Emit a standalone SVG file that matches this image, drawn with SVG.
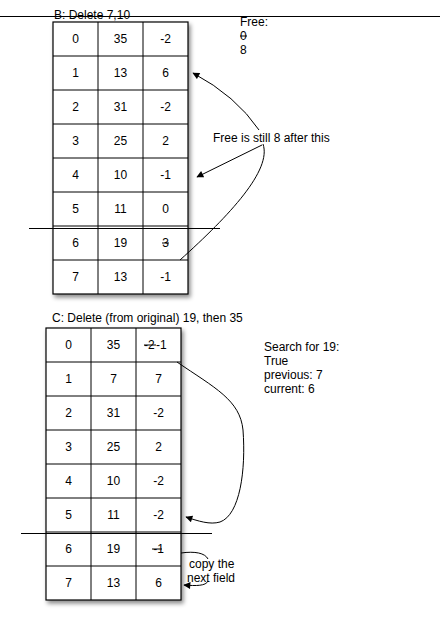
<svg xmlns="http://www.w3.org/2000/svg" width="440" height="617" viewBox="0 0 440 617">
<style>
text{font-family:"Liberation Sans",Arial,sans-serif;font-size:12px;fill:#000}
.c{text-anchor:middle}
.g{stroke:#000;stroke-width:1;fill:none}
.w{fill:#fff;stroke:#000;stroke-width:1.2;filter:url(#sh)}
.con{stroke:#000;stroke-width:1;fill:none}
</style>
<defs>
<filter id="sh" x="-20%" y="-10%" width="140%" height="120%">
<feDropShadow dx="2" dy="3" stdDeviation="2" flood-color="#000" flood-opacity="0.45"/>
</filter>
<marker id="ah" viewBox="0 0 10 10" refX="9" refY="5" markerWidth="9" markerHeight="7" markerUnits="userSpaceOnUse" orient="auto">
<path d="M0,0 L10,5 L0,10 z" fill="#000"/>
</marker>
</defs>
<rect width="440" height="617" fill="#fff"/>
<line x1="0" y1="16.5" x2="440" y2="16.5" stroke="#000" stroke-width="1"/>

<g id="tableB">
<rect class="w" x="53" y="22" width="135" height="272"/>
<path class="g" d="M98,22V294M143,22V294M53,56H188M53,90H188M53,124H188M53,158H188M53,192H188M53,226H188M53,260H188"/>
<text class="c" x="75.5" y="43">0</text><text class="c" x="120.5" y="43">35</text><text class="c" x="165.5" y="43">-2</text>
<text class="c" x="75.5" y="77">1</text><text class="c" x="120.5" y="77">13</text><text class="c" x="165.5" y="77">6</text>
<text class="c" x="75.5" y="111">2</text><text class="c" x="120.5" y="111">31</text><text class="c" x="165.5" y="111">-2</text>
<text class="c" x="75.5" y="145">3</text><text class="c" x="120.5" y="145">25</text><text class="c" x="165.5" y="145">2</text>
<text class="c" x="75.5" y="179">4</text><text class="c" x="120.5" y="179">10</text><text class="c" x="165.5" y="179">-1</text>
<text class="c" x="75.5" y="213">5</text><text class="c" x="120.5" y="213">11</text><text class="c" x="165.5" y="213">0</text>
<text class="c" x="75.5" y="247">6</text><text class="c" x="120.5" y="247">19</text><text class="c" x="165.5" y="247">3</text>
<line x1="162" y1="243" x2="169" y2="243" stroke="#000" stroke-width="1"/>
<text class="c" x="75.5" y="281">7</text><text class="c" x="120.5" y="281">13</text><text class="c" x="165.5" y="281">-1</text>
</g>
<line x1="29" y1="228.5" x2="220" y2="228.5" stroke="#000" stroke-width="1"/>
<text id="titleB" x="54" y="19">B: Delete 7,10</text>

<g id="freeB">
<text x="240" y="26">Free:</text>
<text x="240" y="40">0</text>
<line x1="240" y1="36" x2="247" y2="36" stroke="#000" stroke-width="1"/>
<text x="240" y="54">8</text>
</g>
<text id="noteB" x="213" y="142">Free is still 8 after this</text>

<g id="tableC">
<rect class="w" x="46" y="328" width="135" height="272"/>
<path class="g" d="M91,328V600M136,328V600M46,362H181M46,396H181M46,430H181M46,464H181M46,498H181M46,532H181M46,566H181"/>
<text class="c" x="68.5" y="349">0</text><text class="c" x="113.5" y="349">35</text>
<text x="144" y="349">-2</text><text x="156" y="349">-1</text>
<line x1="144" y1="345" x2="156" y2="345" stroke="#000" stroke-width="1"/>
<text class="c" x="68.5" y="383">1</text><text class="c" x="113.5" y="383">7</text><text class="c" x="158.5" y="383">7</text>
<text class="c" x="68.5" y="417">2</text><text class="c" x="113.5" y="417">31</text><text class="c" x="158.5" y="417">-2</text>
<text class="c" x="68.5" y="451">3</text><text class="c" x="113.5" y="451">25</text><text class="c" x="158.5" y="451">2</text>
<text class="c" x="68.5" y="485">4</text><text class="c" x="113.5" y="485">10</text><text class="c" x="158.5" y="485">-2</text>
<text class="c" x="68.5" y="519">5</text><text class="c" x="113.5" y="519">11</text><text class="c" x="158.5" y="519">-2</text>
<text class="c" x="68.5" y="553">6</text><text class="c" x="113.5" y="553">19</text><text class="c" x="158.5" y="553">-1</text>
<line x1="152" y1="549" x2="162" y2="549" stroke="#000" stroke-width="1"/>
<text class="c" x="68.5" y="587">7</text><text class="c" x="113.5" y="587">13</text><text class="c" x="158.5" y="587">6</text>
</g>
<line x1="21" y1="533.5" x2="212" y2="533.5" stroke="#000" stroke-width="1"/>
<text id="titleC" x="52" y="322">C: Delete (from original) 19, then 35</text>

<g id="searchC">
<text x="264" y="351">Search for 19:</text>
<text x="264" y="365">True</text>
<text x="264" y="379">previous: 7</text>
<text x="264" y="393">current: 6</text>
</g>
<g id="copyNote">
<text x="189" y="568">copy the</text>
<text x="187" y="582">next field</text>
</g>

<g id="connectors">
<path class="con" d="M259,130 Q236,96 193,73" marker-end="url(#ah)"/>
<path class="con" d="M262,145 L197,177" marker-end="url(#ah)"/>
<path class="con" d="M263,144 C272,170 230,215 180,260"/>
<path class="con" d="M177,362 C215,388 240,400 243,430 C246,470 240,515 220,522 C210,525 198,521 186,517" marker-end="url(#ah)"/>
<path class="con" d="M181,553 C195,551 205,553 208,559"/>
<path class="con" d="M208,581 C206,586 196,586 184,585" marker-end="url(#ah)"/>
</g>
</svg>
